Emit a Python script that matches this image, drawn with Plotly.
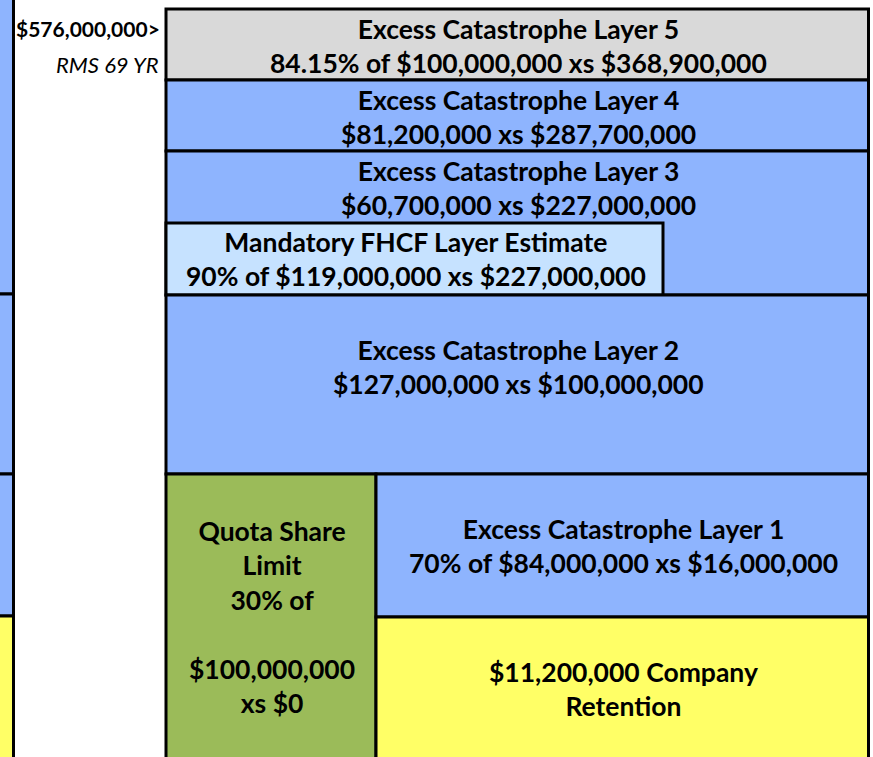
import plotly.graph_objects as go

# layer tower - labels and colours (top to bottom)
layer_names = ["Layer 5", "Layer 4", "Layer 3", "FHCF", "Layer 2", "Quota Share", "Layer 1", "Retention"]
layer_text = [
    "Excess Catastrophe Layer 5<br>84.15% of $100,000,000 xs $368,900,000",
    "Excess Catastrophe Layer 4<br>$81,200,000 xs $287,700,000",
    "Excess Catastrophe Layer 3<br>$60,700,000 xs $227,000,000",
    "Mandatory FHCF Layer Estimate<br>90% of $119,000,000 xs $227,000,000",
    "Excess Catastrophe Layer 2<br>$127,000,000 xs $100,000,000",
    "Quota Share<br>Limit<br>30% of<br> <br>$100,000,000<br>xs $0",
    "Excess Catastrophe Layer 1<br>70% of $84,000,000 xs $16,000,000",
    "$11,200,000 Company<br>Retention",
]
top_label = "$576,000,000>"
top_sub = "RMS 69 YR"

GRAY = "#d9d9d9"
BLUE = "#8eb4fe"
LIGHT = "#c6e2ff"
GREEN = "#9bbb59"
YELLOW = "#ffff66"
layer_colors = [GRAY, BLUE, BLUE, LIGHT, BLUE, GREEN, BLUE, YELLOW]

# box geometry in pixel units (x0, y0, x1, y1), y grows downward
boxes = [
    (166, 9, 868.5, 80),
    (166, 80, 868.5, 151),
    (166, 151, 868.5, 295),
    (166, 223, 663, 295),
    (166, 295, 868.5, 474),
    (166, 474, 376, 762),
    (376, 474, 868.5, 617),
    (376, 617, 868.5, 762),
]
# text centre per box
text_pos = [(518, 46), (518, 117), (518, 188), (416, 259), (518, 367), (272, 617), (623, 546), (623, 689)]

# cropped neighbour column on the far left
strip_boxes = [(-5, -5, 13.5, 294), (-5, 294, 13.5, 474), (-5, 474, 13.5, 616), (-5, 616, 13.5, 762)]
strip_colors = [BLUE, BLUE, BLUE, YELLOW]

fig = go.Figure()
fig.add_trace(go.Scatter(x=[0, 873], y=[0, 757], mode="markers", marker=dict(opacity=0), hoverinfo="skip", showlegend=False))

for (x0, y0, x1, y1), c in zip(strip_boxes, strip_colors):
    fig.add_shape(type="rect", x0=x0, y0=y0, x1=x1, y1=y1, fillcolor=c, line=dict(color="black", width=3))

for (x0, y0, x1, y1), c in zip(boxes, layer_colors):
    fig.add_shape(type="rect", x0=x0, y0=y0, x1=x1, y1=y1, fillcolor=c, line=dict(color="black", width=3))

for t, (x, y) in zip(layer_text, text_pos):
    fig.add_annotation(x=x, y=y, text="<b>" + t + "</b>", showarrow=False,
                       font=dict(family="Lato", size=26.5, color="black"), align="center")

fig.add_annotation(x=162, y=28, text="<b>" + top_label + "</b>", showarrow=False, xanchor="right",
                   font=dict(family="Lato", size=21, color="black"))
fig.add_annotation(x=161, y=64, text="<i>" + top_sub + "</i>", showarrow=False, xanchor="right",
                   font=dict(family="Lato", size=22, color="black"))

fig.update_layout(
    width=873, height=757,
    margin=dict(l=0, r=0, t=0, b=0),
    plot_bgcolor="white", paper_bgcolor="white",
    xaxis=dict(range=[0, 873], visible=False, fixedrange=True),
    yaxis=dict(range=[757, 0], visible=False, fixedrange=True),
    showlegend=False,
)

fig.write_html("out.html", config={"displayModeBar": False},
               post_script="document.body.style.margin='0';document.body.style.overflow='hidden';")
